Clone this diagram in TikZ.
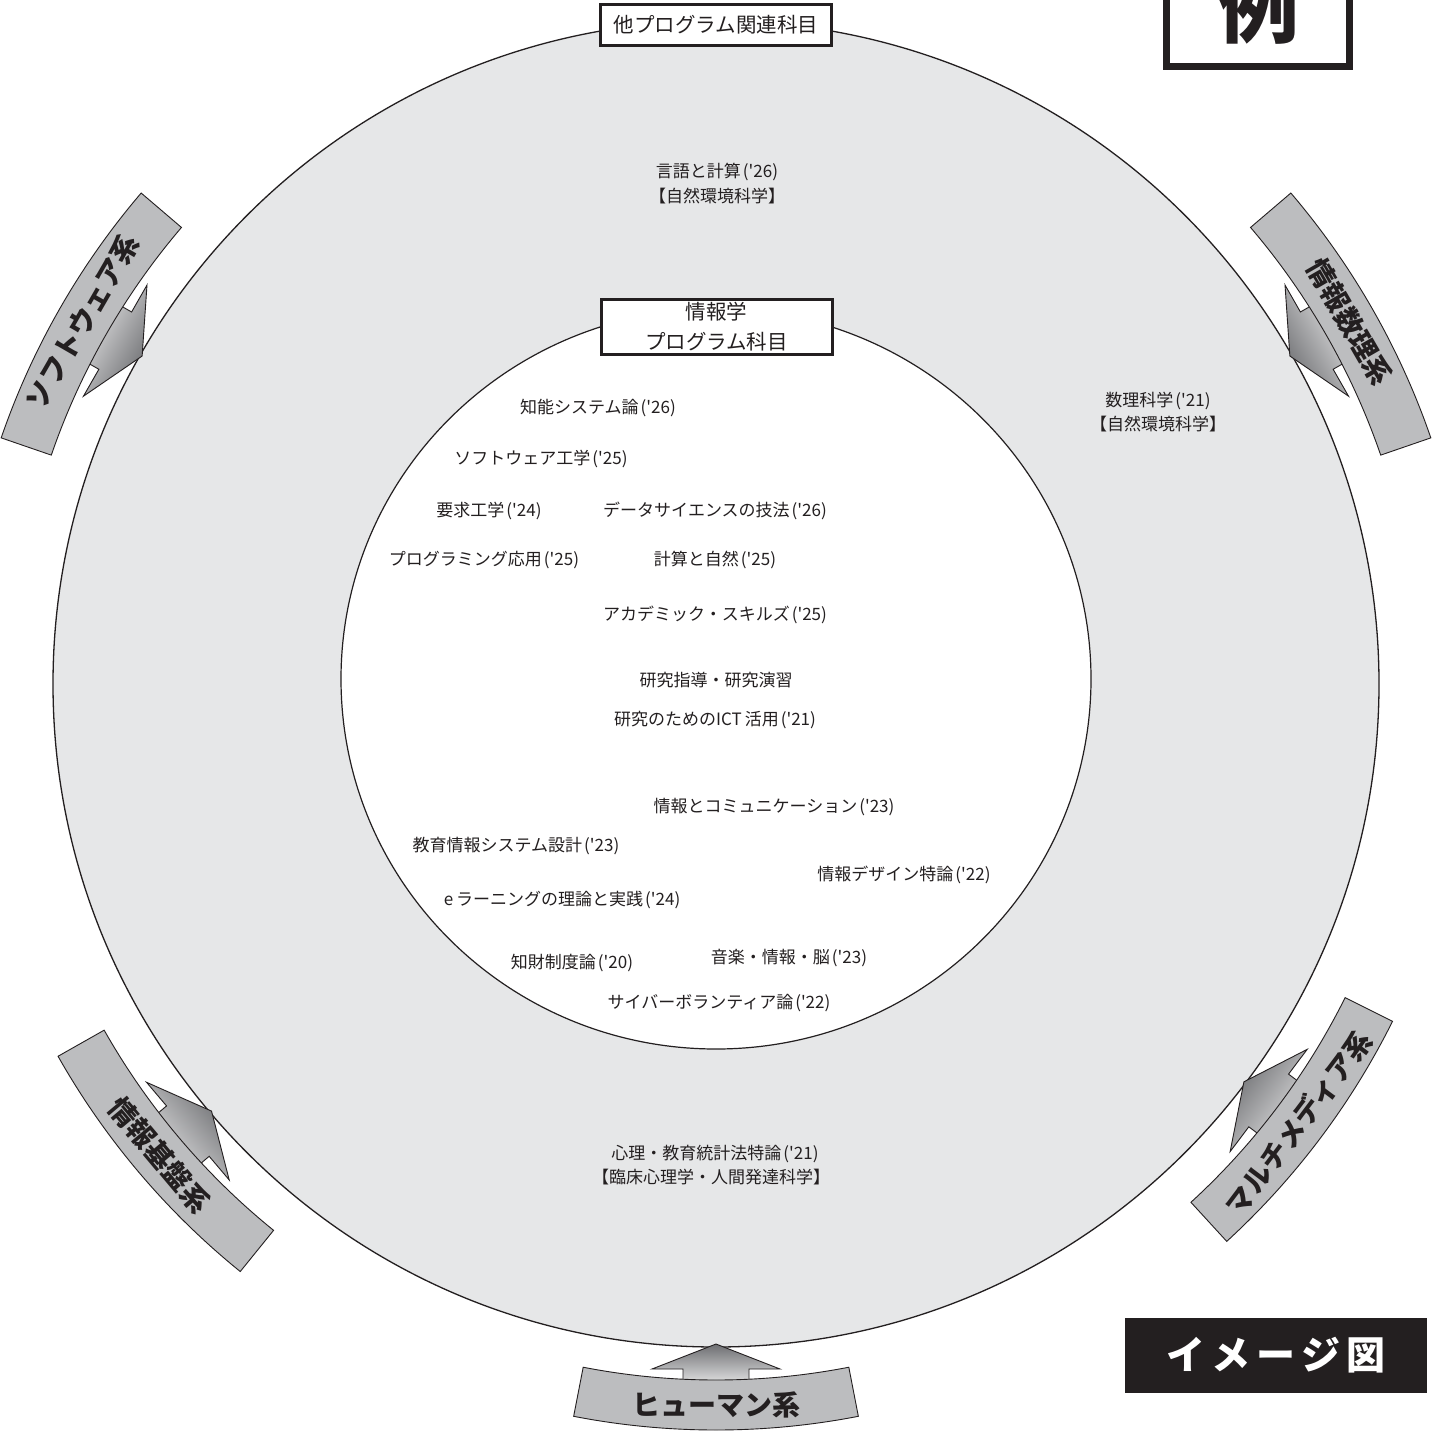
\documentclass[tikz,border=0pt]{standalone}
\usepackage{fontspec}
\newfontfamily\jp{Noto Sans CJK JP}
\usetikzlibrary{calc}
\definecolor{ringgray}{HTML}{E6E7E8}
\definecolor{bandgray}{HTML}{BCBDBF}
\definecolor{arrowdark}{HTML}{6D6E71}
\definecolor{arrowlight}{HTML}{E8E8E9}
\definecolor{boxblack}{HTML}{231F20}
% #1 start angle, #2 end angle, #3 inner r, #4 outer r, #5 tip r, #6 head base r, #7 label, #8 rotation, #9 name
\newcommand{\bandarrow}[9]{%
  \begin{scope}[shift={(C)}]
    \pgfmathsetmacro\bamid{(#1+#2)/2}
    \pgfmathsetmacro\bashade{\bamid+90}
    \shadedraw[arr, shading angle=\bashade]
      ($(\bamid:#3+6)+({\bamid+90}:33)$) -- ($(\bamid:#6)+({\bamid+90}:33)$)
      -- ($(\bamid:#6)+({\bamid+90}:64)$) -- (\bamid:#5)
      -- ($(\bamid:#6)+({\bamid-90}:64)$) -- ($(\bamid:#6)+({\bamid-90}:33)$)
      -- ($(\bamid:#3+6)+({\bamid-90}:33)$) -- cycle;
    \draw[band] (#1:#3) arc[start angle=#1, end angle=#2, radius=#3]
      -- (#2:#4) arc[start angle=#2, end angle=#1, radius=#4] -- cycle;
    \node[bandtxt, rotate=#8] (#9) at (\bamid:{(#3+#4)/2}) {#7};
  \end{scope}}
\begin{document}
\begin{tikzpicture}[x=1pt,y=1pt,
  lbl/.style={font=\jp\fontsize{17}{20}\selectfont, inner sep=0pt, text=boxblack},
  hdr/.style={draw=boxblack, line width=3pt, fill=white, font=\jp\fontsize{20.5}{30}\selectfont, align=center, inner sep=0pt, text=boxblack},
  bandtxt/.style={font=\jp\bfseries\fontsize{28}{30}\selectfont, inner sep=0pt, text=boxblack},
  band/.style={draw=boxblack, line width=0.9pt, fill=bandgray},
  arr/.style={draw=boxblack, line width=0.9pt, top color=arrowdark, bottom color=arrowlight}]
\useasboundingbox (0,0) rectangle (1435,-1432);
\fill[white] (0,0) rectangle (1435,-1432);
\coordinate (C) at (716,-684);
\coordinate (Ci) at (716,-679);
% rings
\draw[fill=ringgray, draw=boxblack, line width=1.3pt] (C) circle[radius=663];
\draw[fill=white, draw=boxblack, line width=1.2pt] (Ci) ellipse[x radius=375, y radius=370];
% bands with arrows
\bandarrow{139.5}{161}{703}{756}{661}{692}{ソフトウェア系}{60}{soft}
\bandarrow{19}{40.5}{703}{756}{661}{692}{情報数理系}{-60}{math}
\bandarrow{209.5}{231}{703}{756}{661}{692}{情報基盤系}{310}{infra}
\bandarrow{312.5}{333.5}{703}{756}{661}{692}{マルチメディア系}{53}{multi}
\bandarrow{259}{281}{696}{746}{660}{685}{ヒューマン系}{0}{human}
% header boxes
\node[hdr, minimum width=230.5pt, minimum height=41pt] (other) at (716,-24.5) {他プログラム関連科目};
\node[hdr, minimum width=231pt, minimum height=55.5pt] (prog) at (716.5,-327) {情報学\\プログラム科目};
% outer ring subjects
\node[lbl] (o1) at (717,-172) {言語と計算\hspace{2pt}('26)};
\node[lbl] (o2) at (717,-196) {【自然環境科学】};
\node[lbl] (o3) at (1158,-401) {数理科学\hspace{2pt}('21)};
\node[lbl] (o4) at (1158,-424) {【自然環境科学】};
\node[lbl] (o5) at (715,-1154) {心理・教育統計法特論\hspace{2pt}('21)};
\node[lbl] (o6) at (711,-1177) {【臨床心理学・人間発達科学】};
% inner circle subjects
\node[lbl] (i1) at (598,-408) {知能システム論\hspace{2pt}('26)};
\node[lbl] (i2) at (541,-459) {ソフトウェア工学\hspace{2pt}('25)};
\node[lbl] (i3) at (489,-511) {要求工学\hspace{2pt}('24)};
\node[lbl] (i4) at (715,-511) {データサイエンスの技法\hspace{2pt}('26)};
\node[lbl] (i5) at (484,-560) {プログラミング応用\hspace{2pt}('25)};
\node[lbl] (i6) at (715,-560) {計算と自然\hspace{2pt}('25)};
\node[lbl] (i7) at (715,-615) {アカデミック・スキルズ\hspace{2pt}('25)};
\node[lbl] (i8) at (716,-680) {研究指導・研究演習};
\node[lbl] (i9) at (715,-720) {研究のためのICT\hspace{3pt}活用\hspace{2pt}('21)};
\node[lbl] (i10) at (774,-807) {情報とコミュニケーション\hspace{2pt}('23)};
\node[lbl] (i11) at (516,-846) {教育情報システム設計\hspace{2pt}('23)};
\node[lbl] (i12) at (904,-875) {情報デザイン特論\hspace{2pt}('22)};
\node[lbl] (i13) at (562,-900) {e\hspace{3pt}ラーニングの理論と実践\hspace{2pt}('24)};
\node[lbl] (i14) at (572,-963) {知財制度論\hspace{2pt}('20)};
\node[lbl] (i15) at (789,-958) {音楽・情報・脳\hspace{2pt}('23)};
\node[lbl] (i16) at (719,-1003) {サイバーボランティア論\hspace{2pt}('22)};
% example box (top right, cropped by the page edge)
\draw[draw=boxblack, line width=7pt, fill=white] (1166.5,20) rectangle (1349.5,-66.5);
\node[font=\jp\bfseries\fontsize{82}{84}\selectfont, inner sep=0pt, text=boxblack] (rei) at (1258,-5) {例};
% image label
\node[fill=boxblack, minimum width=302pt, minimum height=75pt, inner sep=0pt, text=white,
  font=\jp\bfseries\fontsize{39}{40}\selectfont] (img) at (1276,-1355.5)
  {イ\hspace{6pt}メ\hspace{6pt}ー\hspace{6pt}ジ\hspace{6pt}図};
\end{tikzpicture}
\end{document}
